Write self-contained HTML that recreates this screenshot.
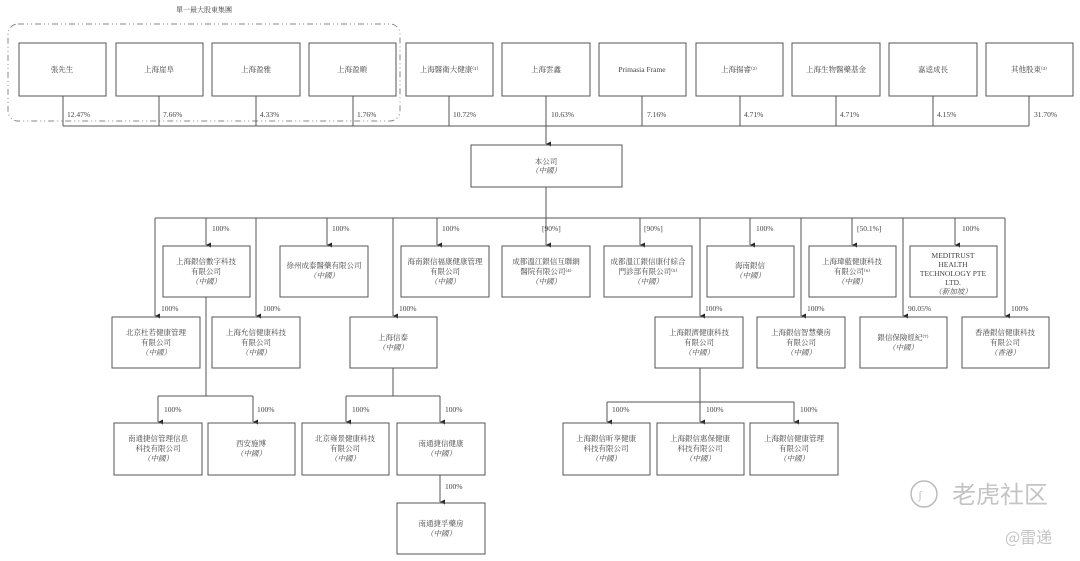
<!DOCTYPE html>
<html><head><meta charset="utf-8"><style>
html,body{margin:0;padding:0;background:#fff;width:1080px;height:561px;overflow:hidden}
svg text{font-family:"Liberation Serif","Noto Serif CJK SC","Noto Sans CJK TC",serif;fill:#444;font-size:7.5px}
.c{text-anchor:middle}
.i{font-style:italic}
</style></head><body>
<svg width="1080" height="561" viewBox="0 0 1080 561" xmlns="http://www.w3.org/2000/svg">
<defs><marker id="a" markerWidth="6" markerHeight="6" refX="3" refY="5" orient="auto" markerUnits="userSpaceOnUse"><path d="M0.5,0 L5.5,0 L3,5 z" fill="#222"/></marker></defs>
<g fill="none" stroke="#555" stroke-width="1">
<rect x="8" y="24" width="392" height="97" rx="10" stroke="#888" stroke-dasharray="6,3,1,3,1,3"/>
<rect x="19" y="43" width="87" height="53"/><rect x="116" y="43" width="87" height="53"/><rect x="212" y="43" width="88" height="53"/><rect x="309" y="43" width="87" height="53"/><rect x="406" y="43" width="87" height="53"/><rect x="502" y="43" width="88" height="53"/><rect x="599" y="43" width="87" height="53"/><rect x="696" y="43" width="87" height="53"/><rect x="792" y="43" width="88" height="53"/><rect x="889" y="43" width="88" height="53"/><rect x="986" y="43" width="87" height="53"/>
<path d="M63,96V126M159,96V126M256,96V126M353,96V126M449,96V126M642,96V126M740,96V126M836,96V126M933,96V126M1029,96V126M63,126H1029"/>
<path d="M546,96V144" marker-end="url(#a)"/>
<rect x="471" y="145" width="151" height="42"/>
<path d="M546,187V218M155,218H1005"/>
<g marker-end="url(#a)">
<path d="M155,218V316"/><path d="M206,218V245"/><path d="M256,218V316"/><path d="M327,218V245"/><path d="M393,218V316"/><path d="M437,218V245"/><path d="M546,218V245"/><path d="M640,218V245"/><path d="M700,218V316"/><path d="M750,218V245"/><path d="M801,218V316"/><path d="M852,218V245"/><path d="M903,218V316"/><path d="M955,218V245"/><path d="M1005,218V316"/>
<path d="M158,396V422"/><path d="M253,396V422"/><path d="M346,396V422"/><path d="M440,396V422"/><path d="M440,475V502"/><path d="M607,402V422"/><path d="M700,402V422"/><path d="M794,402V422"/>
</g>
<rect x="163" y="246" width="87" height="51"/><rect x="280" y="246" width="88" height="51"/><rect x="401" y="246" width="88" height="51"/><rect x="502" y="246" width="88" height="51"/><rect x="604" y="246" width="88" height="51"/><rect x="707" y="246" width="87" height="51"/><rect x="809" y="246" width="87" height="51"/><rect x="910" y="246" width="87" height="51"/>
<rect x="112" y="317" width="88" height="51"/><rect x="212" y="317" width="88" height="51"/><rect x="350" y="317" width="87" height="51"/><rect x="655" y="317" width="88" height="51"/><rect x="757" y="317" width="88" height="51"/><rect x="860" y="317" width="87" height="51"/><rect x="962" y="317" width="87" height="51"/>
<path d="M206,297V396M158,396H253M393,368V396M346,396H440M700,368V402M607,402H794"/>
<rect x="114" y="423" width="88" height="52"/><rect x="208" y="423" width="87" height="52"/><rect x="302" y="423" width="87" height="52"/><rect x="397" y="423" width="88" height="52"/><rect x="397" y="503" width="88" height="51"/>
<rect x="563" y="423" width="87" height="52"/><rect x="657" y="423" width="87" height="52"/><rect x="750" y="423" width="88" height="52"/>
</g>
<text x="204" y="12" class="c" style="font-size:7px">單一最大股東集團</text>
<g class="c">
<text x="62" y="72">張先生</text><text x="159" y="72">上海崖阜</text><text x="256" y="72">上海盈雅</text><text x="352" y="72">上海盈順</text><text x="449" y="72">上海醫衛大健康⁽¹⁾</text><text x="546" y="72">上海雲鑫</text><text x="642" y="72">Primasia Frame</text><text x="739" y="72">上海揚睿⁽²⁾</text><text x="836" y="72">上海生物醫藥基金</text><text x="933" y="72">嘉逵成長</text><text x="1029" y="72">其他股東⁽³⁾</text>
</g>
<text x="67" y="117">12.47%</text><text x="163" y="117">7.66%</text><text x="260" y="117">4.33%</text><text x="357" y="117">1.76%</text><text x="453" y="117">10.72%</text><text x="551" y="117">10.63%</text><text x="647" y="117">7.16%</text><text x="744" y="117">4.71%</text><text x="840" y="117">4.71%</text><text x="937" y="117">4.15%</text><text x="1034" y="117">31.70%</text>
<text x="546" y="164" class="c">本公司</text><text x="546" y="173" class="c i">（中國）</text>
<g>
<text x="212" y="231">100%</text><text x="332" y="231">100%</text><text x="442" y="231">100%</text><text x="542" y="231">[90%]</text><text x="644" y="231">[90%]</text><text x="756" y="231">100%</text><text x="857" y="231">[50.1%]</text><text x="962" y="231">100%</text>
<text x="161" y="311">100%</text><text x="263" y="311">100%</text><text x="399" y="311">100%</text><text x="705" y="311">100%</text><text x="807" y="311">100%</text><text x="908" y="311">90.05%</text><text x="1011" y="311">100%</text>
<text x="164" y="412">100%</text><text x="257" y="412">100%</text><text x="352" y="412">100%</text><text x="445" y="412">100%</text><text x="445" y="489">100%</text><text x="612" y="412">100%</text><text x="706" y="412">100%</text><text x="800" y="412">100%</text>
</g>
<g class="c">
<text x="206" y="264">上海銀信數字科技</text><text x="206" y="274">有限公司</text><text x="206" y="284" class="i">（中國）</text>
<text x="324" y="268">徐州成泰醫藥有限公司</text><text x="324" y="278" class="i">（中國）</text>
<text x="445" y="264">海南銀信福康健康管理</text><text x="445" y="274">有限公司</text><text x="445" y="284" class="i">（中國）</text>
<text x="546" y="264">成都溫江銀信互聯網</text><text x="546" y="274">醫院有限公司⁽⁴⁾</text><text x="546" y="284" class="i">（中國）</text>
<text x="648" y="264">成都溫江銀信康付綜合</text><text x="648" y="274">門診部有限公司⁽⁵⁾</text><text x="648" y="284" class="i">（中國）</text>
<text x="750" y="268">海南銀信</text><text x="750" y="278" class="i">（中國）</text>
<text x="852" y="264">上海瑋藍健康科技</text><text x="852" y="274">有限公司⁽⁶⁾</text><text x="852" y="284" class="i">（中國）</text>
<text x="953" y="258">MEDITRUST</text><text x="953" y="267">HEALTH</text><text x="953" y="276">TECHNOLOGY PTE</text><text x="953" y="285">LTD.</text><text x="953" y="294" class="i">（新加坡）</text>
<text x="156" y="335">北京杜若健康管理</text><text x="156" y="345">有限公司</text><text x="156" y="355" class="i">（中國）</text>
<text x="256" y="335">上海允信健康科技</text><text x="256" y="345">有限公司</text><text x="256" y="355" class="i">（中國）</text>
<text x="393" y="340">上海信泰</text><text x="393" y="350" class="i">（中國）</text>
<text x="699" y="335">上海銀濟健康科技</text><text x="699" y="345">有限公司</text><text x="699" y="355" class="i">（中國）</text>
<text x="801" y="335">上海銀信智慧藥房</text><text x="801" y="345">有限公司</text><text x="801" y="355" class="i">（中國）</text>
<text x="903" y="340">銀信保險經紀⁽⁷⁾</text><text x="903" y="350" class="i">（中國）</text>
<text x="1005" y="335">香港銀信健康科技</text><text x="1005" y="345">有限公司</text><text x="1005" y="355" class="i">（香港）</text>
<text x="158" y="441">南通捷信管理信息</text><text x="158" y="451">科技有限公司</text><text x="158" y="461" class="i">（中國）</text>
<text x="251" y="446">西安施博</text><text x="251" y="456" class="i">（中國）</text>
<text x="345" y="441">北京雍景健康科技</text><text x="345" y="451">有限公司</text><text x="345" y="461" class="i">（中國）</text>
<text x="441" y="446">南通捷信健康</text><text x="441" y="456" class="i">（中國）</text>
<text x="441" y="526">南通捷孚藥房</text><text x="441" y="536" class="i">（中國）</text>
<text x="606" y="441">上海銀信昕享健康</text><text x="606" y="451">科技有限公司</text><text x="606" y="461" class="i">（中國）</text>
<text x="700" y="441">上海銀信惠保健康</text><text x="700" y="451">科技有限公司</text><text x="700" y="461" class="i">（中國）</text>
<text x="794" y="441">上海銀信健康管理</text><text x="794" y="451">有限公司</text><text x="794" y="461" class="i">（中國）</text>
</g>
<circle cx="924" cy="494" r="13" fill="none" stroke="#bbb" stroke-width="1.5"/>
<text x="918" y="499" style="fill:#bbb;font-size:12px">ʃ</text>
<text x="952" y="503" style="fill:#c4c4c4;font-size:24px;font-family:'Noto Sans CJK SC',sans-serif">老虎社区</text>
<text x="1005" y="543" style="fill:#c4c4c4;font-size:16px;font-family:'Noto Sans CJK SC',sans-serif">@雷递</text>
</svg>
</body></html>
